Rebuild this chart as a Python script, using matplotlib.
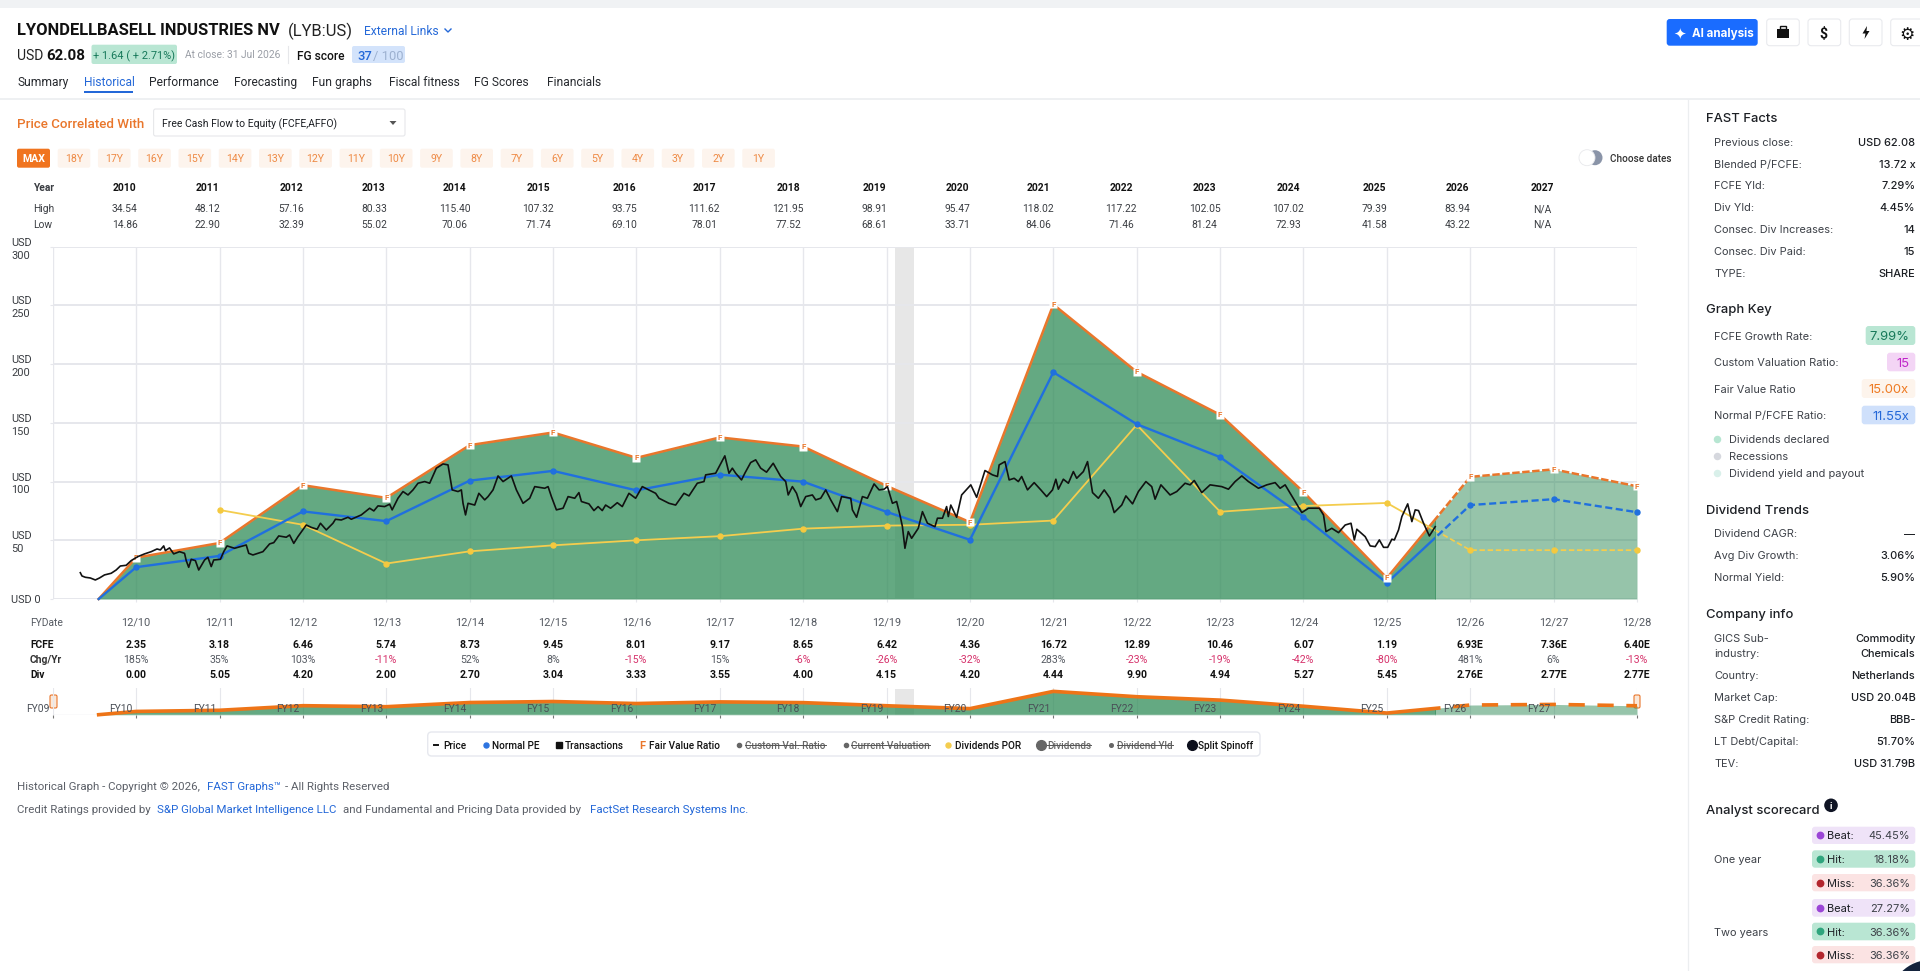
import matplotlib
matplotlib.use('Agg')
import matplotlib.pyplot as plt
from matplotlib.patches import FancyBboxPatch, Rectangle, Circle, Polygon
from matplotlib.transforms import blended_transform_factory

# ---- chart data ----
fiscal_years = list(range(2010, 2029))
fv_x = [2009.55] + fiscal_years
fair_value = [0, 35.2, 47.7, 96.9, 86.1, 131.0, 141.8, 120.2, 137.6, 129.8, 96.3, 65.4,
              250.8, 193.4, 156.9, 91.1, 17.9, 104.0, 110.4, 96.0]
normal_pe = [0, 27.1, 36.7, 74.6, 66.3, 100.8, 109.1, 92.5, 105.9, 99.9, 74.2, 50.4,
             193.1, 148.9, 120.8, 70.1, 13.7, 80.0, 85.0, 73.9]
por_x = list(range(2011, 2029))
dividends_por = [75.8, 63.2, 30.2, 40.6, 45.7, 50.0, 53.5, 59.9, 62.5, 63.2, 66.8,
                 148.3, 74.3, 79.2, 81.8, 41.6, 41.6, 41.6]

price_x = [2009.33, 2009.35, 2009.39, 2009.45, 2009.51, 2009.56, 2009.62, 2009.7, 2009.76, 2009.81,
           2009.88, 2009.94, 2010.02, 2010.1, 2010.18, 2010.25, 2010.29, 2010.33, 2010.35, 2010.4,
           2010.45, 2010.52, 2010.58, 2010.6, 2010.63, 2010.66, 2010.71, 2010.75, 2010.82, 2010.86,
           2010.9, 2010.93, 2011.01, 2011.05, 2011.09, 2011.18, 2011.32, 2011.35, 2011.4, 2011.52,
           2011.6, 2011.65, 2011.71, 2011.8, 2011.84, 2011.89, 2011.94, 2012.04, 2012.1, 2012.17,
           2012.21, 2012.28, 2012.36, 2012.39, 2012.46, 2012.54, 2012.58, 2012.7, 2012.8, 2012.85,
           2012.9, 2012.98, 2013.04, 2013.07, 2013.14, 2013.2, 2013.26, 2013.32, 2013.38, 2013.46,
           2013.52, 2013.6, 2013.68, 2013.74, 2013.79, 2013.86, 2013.9, 2013.92, 2013.95, 2013.98,
           2014.06, 2014.11, 2014.18, 2014.22, 2014.28, 2014.34, 2014.4, 2014.5, 2014.56, 2014.64,
           2014.72, 2014.78, 2014.9, 2014.94, 2014.98, 2015.04, 2015.12, 2015.18, 2015.26, 2015.31,
           2015.34, 2015.43, 2015.49, 2015.54, 2015.59, 2015.63, 2015.69, 2015.77, 2015.83, 2015.91,
           2015.99, 2016.07, 2016.15, 2016.23, 2016.27, 2016.39, 2016.47, 2016.57, 2016.63, 2016.73,
           2016.81, 2016.83, 2016.95, 2017.06, 2017.11, 2017.15, 2017.19, 2017.26, 2017.3, 2017.37,
           2017.43, 2017.49, 2017.56, 2017.64, 2017.73, 2017.79, 2017.82, 2017.87, 2017.92, 2017.97,
           2018.03, 2018.11, 2018.15, 2018.21, 2018.27, 2018.33, 2018.41, 2018.46, 2018.57, 2018.59,
           2018.64, 2018.71, 2018.77, 2018.85, 2018.91, 2018.97, 2019.01, 2019.07, 2019.12, 2019.16,
           2019.19, 2019.22, 2019.26, 2019.3, 2019.34, 2019.38, 2019.43, 2019.49, 2019.58, 2019.61,
           2019.67, 2019.72, 2019.74, 2019.77, 2019.84, 2019.9, 2020.01, 2020.08, 2020.18, 2020.27,
           2020.33, 2020.35, 2020.42, 2020.47, 2020.53, 2020.58, 2020.62, 2020.69, 2020.77, 2020.85,
           2020.92, 2020.99, 2021.03, 2021.06, 2021.12, 2021.18, 2021.24, 2021.28, 2021.36, 2021.41,
           2021.47, 2021.54, 2021.61, 2021.68, 2021.73, 2021.82, 2021.87, 2021.95, 2022.02, 2022.11,
           2022.18, 2022.22, 2022.29, 2022.4, 2022.48, 2022.58, 2022.64, 2022.69, 2022.78, 2022.88,
           2023.02, 2023.1, 2023.18, 2023.26, 2023.34, 2023.46, 2023.56, 2023.66, 2023.72, 2023.78,
           2023.9, 2023.98, 2024.06, 2024.19, 2024.24, 2024.27, 2024.34, 2024.42, 2024.5, 2024.57,
           2024.61, 2024.64, 2024.74, 2024.8, 2024.86, 2024.91, 2024.96, 2025.01, 2025.06, 2025.09,
           2025.14, 2025.18, 2025.25, 2025.3, 2025.34, 2025.38, 2025.44, 2025.51, 2025.58]
price_y = [22.4, 19.6, 18.5, 17.9, 16.2, 17.9, 20.5, 21.9, 24.7, 28.1,
           28.7, 32.7, 36.1, 38.4, 40.3, 42.6, 41.8, 45.2, 41.2, 43.5,
           38.4, 40.3, 38.9, 32.7, 27.0, 33.8, 32.7, 24.7, 33.2, 35.5,
           27.6, 33.2, 33.8, 40.3, 45.2, 43.2, 46.0, 38.9, 37.5, 40.3,
           46.9, 48.0, 53.7, 52.6, 54.5, 47.4, 53.1, 63.0, 61.0, 59.4,
           64.5, 58.8, 64.5, 67.9, 67.3, 69.6, 67.9, 71.6, 77.3, 75.0,
           79.3, 78.7, 80.7, 75.9, 85.8, 91.5, 88.6, 92.9, 98.6, 100.0,
           98.6, 111.4, 115.0, 114.2, 92.9, 91.5, 92.9, 81.5, 71.6, 81.5,
           80.0, 90.0, 84.4, 87.2, 92.9, 104.8, 100.0, 104.8, 92.9, 81.5,
           85.8, 95.7, 94.3, 95.7, 87.2, 75.9, 77.3, 87.2, 85.8, 90.6,
           83.0, 81.0, 75.3, 78.7, 75.3, 80.0, 77.3, 82.0, 78.7, 90.0,
           85.8, 95.7, 92.9, 90.0, 85.8, 81.5, 80.0, 90.0, 87.8, 98.6,
           100.0, 105.7, 107.1, 121.9, 107.1, 111.4, 107.1, 101.4, 107.1, 116.2,
           118.5, 111.4, 108.0, 115.6, 104.3, 100.0, 88.6, 95.7, 90.0, 78.7,
           87.2, 88.6, 84.4, 85.8, 92.9, 84.4, 74.4, 87.2, 85.8, 75.9,
           69.6, 87.2, 85.8, 98.0, 92.9, 93.5, 95.7, 81.5, 83.0, 71.6,
           61.6, 43.2, 57.4, 51.7, 56.0, 60.2, 74.4, 64.5, 61.6, 68.8,
           68.8, 78.7, 70.2, 80.0, 69.6, 88.6, 97.2, 86.6, 109.4, 105.7,
           104.3, 114.2, 117.0, 101.4, 102.8, 100.0, 104.3, 92.9, 99.1, 92.9,
           87.2, 92.9, 102.0, 93.5, 102.0, 98.6, 108.5, 102.8, 108.5, 117.0,
           90.6, 85.8, 92.9, 85.8, 73.6, 80.0, 87.8, 81.0, 91.5, 100.0,
           95.7, 85.0, 97.2, 88.6, 91.5, 98.6, 97.2, 100.9, 90.6, 97.2,
           95.7, 93.5, 100.0, 104.8, 100.0, 94.3, 97.2, 99.1, 94.3, 97.2,
           83.0, 73.6, 77.3, 77.3, 71.6, 57.4, 60.2, 56.5, 63.0, 64.5,
           50.3, 59.4, 53.1, 45.2, 44.6, 50.3, 44.0, 44.0, 50.9, 50.3,
           58.8, 70.2, 81.0, 65.9, 75.9, 75.3, 64.5, 53.7, 61.6]

# ---- table data ----
fy_labels = ['12/%02d' % (y % 100) for y in fiscal_years]
fcfe = ['2.35', '3.18', '6.46', '5.74', '8.73', '9.45', '8.01', '9.17', '8.65', '6.42', '4.36',
        '16.72', '12.89', '10.46', '6.07', '1.19', '6.93E', '7.36E', '6.40E']
chg_yr = ['185%', '35%', '103%', '-11%', '52%', '8%', '-15%', '15%', '-6%', '-26%', '-32%',
          '283%', '-23%', '-19%', '-42%', '-80%', '481%', '6%', '-13%']
div = ['0.00', '5.05', '4.20', '2.00', '2.70', '3.04', '3.33', '3.55', '4.00', '4.15', '4.20',
       '4.44', '9.90', '4.94', '5.27', '5.45', '2.76E', '2.77E', '2.77E']

top_years = ['2010', '2011', '2012', '2013', '2014', '2015', '2016', '2017', '2018', '2019',
             '2020', '2021', '2022', '2023', '2024', '2025', '2026', '2027']
top_high = ['34.54', '48.12', '57.16', '80.33', '115.40', '107.32', '93.75', '111.62', '121.95',
            '98.91', '95.47', '118.02', '117.22', '102.05', '107.02', '79.39', '83.94', 'N/A']
top_low = ['14.86', '22.90', '32.39', '55.02', '70.06', '71.74', '69.10', '78.01', '77.52',
           '68.61', '33.71', '84.06', '71.46', '81.24', '72.93', '41.58', '43.22', 'N/A']
top_x = [124.6, 207.6, 291, 374, 454.5, 538, 624, 704, 788, 874, 957.6, 1038, 1121, 1204.5,
         1288, 1374.7, 1457.6, 1542.5]

range_btns = ['18Y', '17Y', '16Y', '15Y', '14Y', '13Y', '12Y', '11Y', '10Y', '9Y', '8Y', '7Y',
              '6Y', '5Y', '4Y', '3Y', '2Y', '1Y']
nav_tabs = ['Summary', 'Historical', 'Performance', 'Forecasting', 'Fun graphs', 'Fiscal fitness',
            'FG Scores', 'Financials']
nav_x = [17, 84, 149.5, 234, 312.5, 389, 473.6, 547]

fast_labels = ['Previous close:', 'Blended P/FCFE:', 'FCFE Yld:', 'Div Yld:', 'Consec. Div Increases:',
               'Consec. Div Paid:', 'TYPE:']
fast_values = ['USD 62.08', '13.72 x', '7.29%', '4.45%', '14', '15', 'SHARE']
trend_labels = ['Dividend CAGR:', 'Avg Div Growth:', 'Normal Yield:']
trend_values = ['\u2014', '3.06%', '5.90%']
info_labels = ['Country:', 'Market Cap:', 'S&P Credit Rating:', 'LT Debt/Capital:', 'TEV:']
info_values = ['Netherlands', 'USD 20.04B', 'BBB-', '51.70%', 'USD 31.79B']

TXT = '#1c1f24'
GRAY = '#5c6068'
BLUE = '#2468d8'
ORANGE = '#e9762b'
GRID = '#e6e7ec'
GREEN = '#2e8b57'
SPLIT = 2025.58

plt.rcParams['font.family'] = ['Roboto', 'DejaVu Sans']

W, H = 1920, 971
fig = plt.figure(figsize=(W / 100, H / 100), dpi=100, facecolor='white')

page = fig.add_axes([0, 0, 1, 1], zorder=0)
page.set_xlim(0, W)
page.set_ylim(H, 0)
page.axis('off')


def t(x, y, s, px=12, color=TXT, weight='normal', ha='left', font=None, **kw):
    if font is not None:
        kw['family'] = [font, 'DejaVu Sans']
    return page.text(x, y, s, fontsize=px * 0.72, color=color, weight=weight, ha=ha,
                     va='center_baseline', **kw)


def box(x0, y0, x1, y1, fc, ec='none', r=3, lw=0.8, z=1):
    p = FancyBboxPatch((x0 + r, y0 + r), x1 - x0 - 2 * r, y1 - y0 - 2 * r,
                       boxstyle='round,pad=%g,rounding_size=%g' % (r, r), fc=fc, ec=ec, lw=lw, zorder=z)
    page.add_patch(p)


def hline(x0, x1, y, color, lw=1.0):
    page.plot([x0, x1], [y, y], color=color, lw=lw * 0.72, solid_capstyle='butt', zorder=2)


# ---- header ----
page.add_patch(Rectangle((0, 0), W, 8, fc='#f0f2f4', ec='none'))
t(17, 29, 'LYONDELLBASELL INDUSTRIES NV', 16.5, '#111111', 'bold')
t(288, 29, '(LYB:US)', 16.5, '#222222')
t(364, 30, 'External Links', 12, BLUE)
page.plot([445, 448, 451], [29, 32, 29], color=BLUE, lw=1)

t(17, 55, 'USD', 14, '#222222')
t(46, 55, '62.08', 15, '#111111', 'bold')
box(91.5, 44.7, 177, 64, '#b9e6d3', r=2)
t(134, 54.5, '+ 1.64 ( + 2.71%)', 11, '#17795a', ha='center')
t(185, 54.5, 'At close: 31 Jul 2026', 10.2, '#9a9ea6')
page.plot([288, 288], [46, 63], color='#e6e7ea', lw=0.8)
t(297, 55, 'FG score', 12, '#111111', 'medium')
box(352, 46, 405, 63, '#d3e3fb', r=2)
t(357, 55, '37', 13, BLUE, 'medium')
t(373, 55, '/ 100', 13, '#9db1d0')

for lab, x in zip(nav_tabs, nav_x):
    t(x, 81, lab, 12, BLUE if lab == 'Historical' else '#26292e')
hline(84, 132.6, 92, BLUE, 2)
hline(0, W, 99.5, '#eef0f2', 2)

# AI button and icons
box(1666.7, 19, 1757.7, 45.7, '#1a6cff', r=3)
t(1680, 32.5, '\u2726', 15, 'white', ha='center', font='DejaVu Sans')
t(1692, 32.5, 'AI analysis', 11.6, 'white', 'bold', font='Inter')
for x0, x1 in [(1766.7, 1799.3), (1808, 1840.7), (1849.3, 1882), (1890.7, 1925)]:
    box(x0, 19, x1, 45.7, 'white', ec='#e9eaee', r=3)
page.add_patch(Rectangle((1776.5, 29), 12.5, 9, fc='#111111', ec='none', zorder=3))
page.add_patch(Rectangle((1780, 26.5), 5.5, 3, fc='none', ec='#111111', lw=1, zorder=3))
hline(1776.5, 1789, 33, 'white', 1)
t(1823.7, 32.5, '$', 14, '#111111', 'bold', ha='center')
page.add_patch(Polygon([(1867, 26), (1862.5, 33.5), (1865.5, 33.5), (1864.5, 39), (1869.5, 31), (1866.5, 31)],
                       fc='#111111', ec='none', zorder=3))
t(1907, 32.5, '\u2699', 17, '#111111', ha='center', font='DejaVu Sans')

# ---- controls ----
t(17, 122.7, 'Price Correlated With', 13.4, ORANGE, 'medium')
box(153.6, 109, 405, 136, 'white', ec='#e6e7ea', r=2)
t(161.6, 123, 'Free Cash Flow to Equity (FCFE,AFFO)', 10.4, '#1c1f24')
page.add_patch(Polygon([(389.5, 121), (396.5, 121), (393, 125)], fc='#555555', ec='none', zorder=3))

box(17, 148.7, 50, 167.7, '#f0741f', r=2)
t(33.5, 158.2, 'MAX', 10.5, 'white', 'bold', ha='center')
for i, lab in enumerate(range_btns):
    cx = 74 + i * 40.27
    box(cx - 16.3, 148.7, cx + 16.3, 167.7, '#fdf4ed', r=2)
    t(cx, 158.2, lab, 10.5, '#ee8a45', ha='center')

page.add_patch(Circle((1595, 157.7), 7.5, fc='#8a94a8', ec='none', zorder=2))
page.add_patch(Circle((1587, 157.7), 8, fc='white', ec='#e8e9ec', lw=0.6, zorder=3))
t(1609.5, 157.7, 'Choose dates', 10, '#333333', 'medium')

# top table
t(33, 187, 'Year', 10.2, '#3a3d42', 'bold')
t(33, 208.3, 'High', 10.2, '#3a3d42')
t(33, 223.7, 'Low', 10.2, '#3a3d42')
for x, y_, hi, lo in zip(top_x, top_years, top_high, top_low):
    t(x, 187, y_, 10.2, '#111111', 'bold', ha='center')
    t(x, 208.3, hi, 10.2, '#3a3d42', ha='center')
    t(x, 223.7, lo, 10.2, '#3a3d42', ha='center')

# ---- main chart ----
X0, X1 = 52.8, 1637
Y_TOP, Y_BOT = 246.7, 599
ax = fig.add_axes([X0 / W, 1 - Y_BOT / H, (X1 - X0) / W, (Y_BOT - Y_TOP) / H], zorder=2)
ax.patch.set_alpha(0)
ax.set_xlim(2009, 2028)
ax.set_ylim(0, 300)
for s in ax.spines.values():
    s.set_visible(False)
ax.set_axisbelow(True)
ax.grid(True, axis='y', color=GRID, lw=1.4)
ax.grid(True, axis='x', color=GRID, lw=1.0)
ax.set_xticks(fiscal_years, fy_labels)
ax.set_yticks([0, 50, 100, 150, 200, 250, 300],
              ['USD 0', 'USD\n50', 'USD\n100', 'USD\n150', 'USD\n200', 'USD\n250', 'USD\n300'])
ax.tick_params(axis='x', length=2.5, color=GRID, pad=10.5, labelsize=7.9, labelcolor='#555a62')
ax.tick_params(axis='y', length=2, color=GRID, pad=28, labelsize=7.9, labelcolor='#3a3d42')
for lab in ax.get_yticklabels():
    lab.set_ha('left')
    lab.set_linespacing(1.35)
ax.axvline(2009, color=GRID, lw=1.0, zorder=0)
ax.axvspan(2019.1, 2019.33, color='#e7e7e7', lw=0, zorder=0.5)


def clip_rect(a, x0, x1):
    return Rectangle((x0, -100), x1 - x0, 500, transform=a.transData)


def split_line(a, x, y, color, lw, dashes, z):
    solid = a.plot(x, y, color=color, lw=lw, zorder=z, solid_joinstyle='miter')[0]
    solid.set_clip_path(clip_rect(a, 2009, SPLIT))
    dash = a.plot(x, y, color=color, lw=lw, zorder=z, dashes=dashes, clip_on=True)[0]
    dash.set_clip_path(clip_rect(a, SPLIT, 2029))


def split_fill(a, x, y):
    dark = a.fill_between(x, 0, y, color=GREEN, alpha=0.74, lw=0, zorder=1)
    dark.set_clip_path(clip_rect(a, 2009, SPLIT))
    light = a.fill_between(x, 0, y, color=GREEN, alpha=0.5, lw=0, zorder=1)
    light.set_clip_path(clip_rect(a, SPLIT, 2029))


split_fill(ax, fv_x, fair_value)
split_line(ax, fv_x, fair_value, ORANGE, 1.8, (3, 1), 3)
split_line(ax, fv_x, normal_pe, '#2070de', 1.7, (3, 1.5), 4)
split_line(ax, por_x, dividends_por, '#f4cd4e', 1.3, (3, 1.5), 3.5)
ax.plot(por_x, dividends_por, ls='none', marker='o', ms=3.6, color='#f4c93f', zorder=3.6, clip_on=False)
ax.plot(fv_x[1:], normal_pe[1:], ls='none', marker='o', ms=3.6, color='#2070de', zorder=4.1, clip_on=False)
ax.plot(price_x, price_y, color='#111111', lw=1.2, zorder=5, solid_joinstyle='round')
ax.plot(fv_x[1:], fair_value[1:], ls='none', marker='s', ms=5.4, color='white', mec='none', zorder=4.5, clip_on=False)
for x, y in zip(fv_x[1:], fair_value[1:]):
    ax.text(x, y, 'F', color=ORANGE, fontsize=5.8, weight='bold', ha='center', va='center', zorder=4.6, clip_on=False)

# ---- table under the chart ----
tbl = blended_transform_factory(ax.transData, page.transData)
t(30, 622, 'FYDate', 10.2, '#555a62')
t(30, 643.7, 'FCFE', 10.2, '#111111', 'bold')
t(30, 659, 'Chg/Yr', 10.2, '#333333', 'bold')
t(30, 674, 'Div', 10.2, '#111111', 'bold')
for yr, a, b, c in zip(fiscal_years, fcfe, chg_yr, div):
    page.text(yr, 643.7, a, transform=tbl, fontsize=7.6, weight='bold', color='#111111', ha='center', va='center_baseline')
    page.text(yr, 659, b, transform=tbl, fontsize=7.6, color='#d6336c' if b.startswith('-') else '#555a62',
              ha='center', va='center_baseline')
    page.text(yr, 674, c, transform=tbl, fontsize=7.6, weight='bold', color='#111111', ha='center', va='center_baseline')

# ---- navigator ----
N_TOP, N_BOT = 688, 714.7
nav = fig.add_axes([X0 / W, 1 - N_BOT / H, (X1 - X0) / W, (N_BOT - N_TOP) / H], zorder=2)
nav.patch.set_alpha(0)
nav.set_xlim(2009, 2028)
nav.set_ylim(0, 287)
for s in nav.spines.values():
    s.set_visible(False)
nav.set_axisbelow(True)
nav.set_xticks([2009] + fiscal_years, [''] * 20)
nav.set_yticks([])
nav.grid(True, axis='x', color=GRID, lw=0.8)
nav.tick_params(axis='x', length=2.5, color='#777777')
nav.axvspan(2019.1, 2019.33, ymax=0.95, color='#e7e7e7', lw=0, zorder=0.5)
nav.axhline(0, color=GRID, lw=1)
split_fill(nav, fv_x, fair_value)
split_line(nav, fv_x, fair_value, '#ee7417', 2.6, (4.5, 3.5), 3)
for yr in range(2009, 2028):
    nav.text(yr - 0.18, 72, 'FY%02d' % (yr % 100), fontsize=7.4, color='#4a4f57', ha='center',
             va='center_baseline', zorder=6, clip_on=False)
for x0, x1 in [(50, 57), (1634, 1640)]:
    box(x0, 695, x1, 708, '#fbe8d8', ec=ORANGE, r=1.5, lw=0.8, z=5)

# ---- legend ----
box(427.7, 732, 1260, 756, 'white', ec='#e6e8ee', r=4, lw=1)
LY = 745.3
LP = 10
page.plot([434, 438], [LY, LY], color='#111111', lw=1.4, zorder=3)
t(443, LY, 'Price', LP, '#111111', 'medium')
page.plot([485.6], [LY], 'o', ms=3.6, color='#2d74e0', zorder=3)
t(492, LY, 'Normal PE', LP, '#111111', 'medium')
page.plot([559], [LY], 's', ms=5, color='#111111', zorder=3)
t(565, LY, 'Transactions', LP, '#111111', 'medium')
t(642, LY, 'F', 11, ORANGE, 'bold', ha='center')
t(648.7, LY, 'Fair Value Ratio', LP, '#111111', 'medium')
page.plot([948], [LY], 'o', ms=3.6, color='#f4cd4e', zorder=3)
t(955, LY, 'Dividends POR', LP, '#111111', 'medium')
page.plot([1191.7], [LY], 'o', ms=7, color='#0c0f1c', zorder=3)
t(1198.4, LY, 'Split Spinoff', LP, '#111111', 'medium')

struck = [('Custom Val. Ratio', 739, 745, 3), ('Current Valuation', 845.6, 851, 3),
          ('Dividends', 1040.7, 1047, 7), ('Dividend Yld', 1110.6, 1117, 2.6)]
renderer = fig.canvas.get_renderer()
for lab, dot_x, text_x, ms in struck:
    page.plot([dot_x], [LY], 'o', ms=ms, color='#666666', zorder=3)
    tx = t(text_x, LY, lab, LP, '#666666', 'medium')
    w = tx.get_window_extent(renderer).width
    page.plot([text_x, text_x + w], [LY, LY], color='#555555', lw=0.7, zorder=4)

# ---- footer ----
t(17, 785.7, 'Historical Graph - Copyright \u00a9 2026,', 11.5, GRAY)
t(207, 785.7, 'FAST Graphs\u2122', 11.5, BLUE)
t(285, 785.7, '- All Rights Reserved', 11.5, GRAY)
t(17, 809.3, 'Credit Ratings provided by', 11.5, GRAY)
t(156.7, 809.3, 'S&P Global Market Intelligence LLC', 11.5, BLUE)
t(343, 809.3, 'and Fundamental and Pricing Data provided by', 11.5, GRAY)
t(590, 809.3, 'FactSet Research Systems Inc.', 11.5, BLUE)

# ---- right panel ----
page.plot([1688.3, 1688.3], [100, H], color='#eceef0', lw=0.9)
HX, LX, RX = 1705.7, 1714.3, 1915.3
F = 'Inter'
PX = 11


def heading(y, s):
    t(HX, y, s, 13, '#1c1f24', 'medium', font=F)


def row(y, lab, val):
    t(LX, y, lab, PX, '#3d4148', font=F)
    t(RX, y, val, PX, '#1c1f24', 'medium', ha='right', font=F)


heading(117, 'FAST Facts')
for y, a, b in zip([141.7, 163.7, 185.3, 207.3, 229.3, 251, 273], fast_labels, fast_values):
    row(y, a, b)

heading(309, 'Graph Key')
t(LX, 335.7, 'FCFE Growth Rate:', PX, '#3d4148', font=F)
box(1865.7, 326, RX, 345, '#b9e6d3', r=3)
t(1909, 335.7, '7.99%', 13, '#17795a', ha='right', font=F)
t(LX, 362.3, 'Custom Valuation Ratio:', PX, '#3d4148', font=F)
box(1887, 352.7, RX, 371.3, '#f3d5f5', r=3)
t(1909, 362.3, '15', 13, '#c026c9', ha='right', font=F)
t(LX, 388.7, 'Fair Value Ratio', PX, '#3d4148', font=F)
box(1861.7, 379, RX, 398, '#fdf4ec', r=3)
t(1909, 388.7, '15.00x', 13, '#ee7a22', ha='right', font=F)
t(LX, 415, 'Normal P/FCFE Ratio:', PX, '#3d4148', font=F)
box(1861.7, 405.7, RX, 424.3, '#cfe0fb', r=3)
t(1909, 415, '11.55x', 13, BLUE, ha='right', font=F)

for y, c, lab in [(439.3, '#b7e6d2', 'Dividends declared'), (456.3, '#d6d8de', 'Recessions'),
                  (473, '#d9f0ea', 'Dividend yield and payout')]:
    page.plot([1717.3], [y], 'o', ms=4.4, color=c)
    t(1729.3, y, lab, PX, '#3d4148', font=F)

heading(509, 'Dividend Trends')
for y, a, b in zip([533.3, 555.3, 577.3], trend_labels, trend_values):
    row(y, a, b)

heading(613.3, 'Company info')
t(LX, 638.3, 'GICS Sub-', PX, '#3d4148', font=F)
t(LX, 653, 'industry:', PX, '#3d4148', font=F)
t(RX, 638.3, 'Commodity', PX, '#1c1f24', 'medium', ha='right', font=F)
t(RX, 653, 'Chemicals', PX, '#1c1f24', 'medium', ha='right', font=F)
for y, a, b in zip([675, 697, 719, 740.7, 762.7], info_labels, info_values):
    row(y, a, b)

heading(809.3, 'Analyst scorecard')
page.add_patch(Circle((1831, 805.3), 6.8, fc='#0f1424', ec='none', zorder=3))
t(1831, 805.3, 'i', 9, 'white', 'bold', ha='center', font=F, zorder=4)
t(LX, 859.3, 'One year', PX, '#3d4148', font=F)
t(LX, 931.7, 'Two years', PX, '#3d4148', font=F)
score = [(826.7, 844, 'Beat:', '45.45%'), (850.3, 867.7, 'Hit:', '18.18%'), (874, 891.3, 'Miss:', '36.36%'),
         (899, 916.7, 'Beat:', '27.27%'), (922.7, 940.3, 'Hit:', '36.36%'), (946, 963.3, 'Miss:', '36.36%')]
score_col = {'Beat:': ('#efe3f8', '#9b45d6'), 'Hit:': ('#b9e6d3', '#2fa57d'), 'Miss:': ('#fbe3e3', '#b3262e')}
for y0, y1, lab, val in score:
    fc, dc = score_col[lab]
    box(1812, y0, RX, y1, fc, r=3)
    page.plot([1820], [(y0 + y1) / 2], 'o', ms=4.6, color=dc, zorder=3)
    t(1826.7, (y0 + y1) / 2, lab, PX, '#1c1f24', font=F, zorder=3)
    t(1910, (y0 + y1) / 2, val, PX, '#3d4148', ha='right', font=F, zorder=3)
page.add_patch(Circle((1930, 1000), 40, fc='#14233c', ec='none', zorder=6))

fig.savefig('out.png', dpi=100)
